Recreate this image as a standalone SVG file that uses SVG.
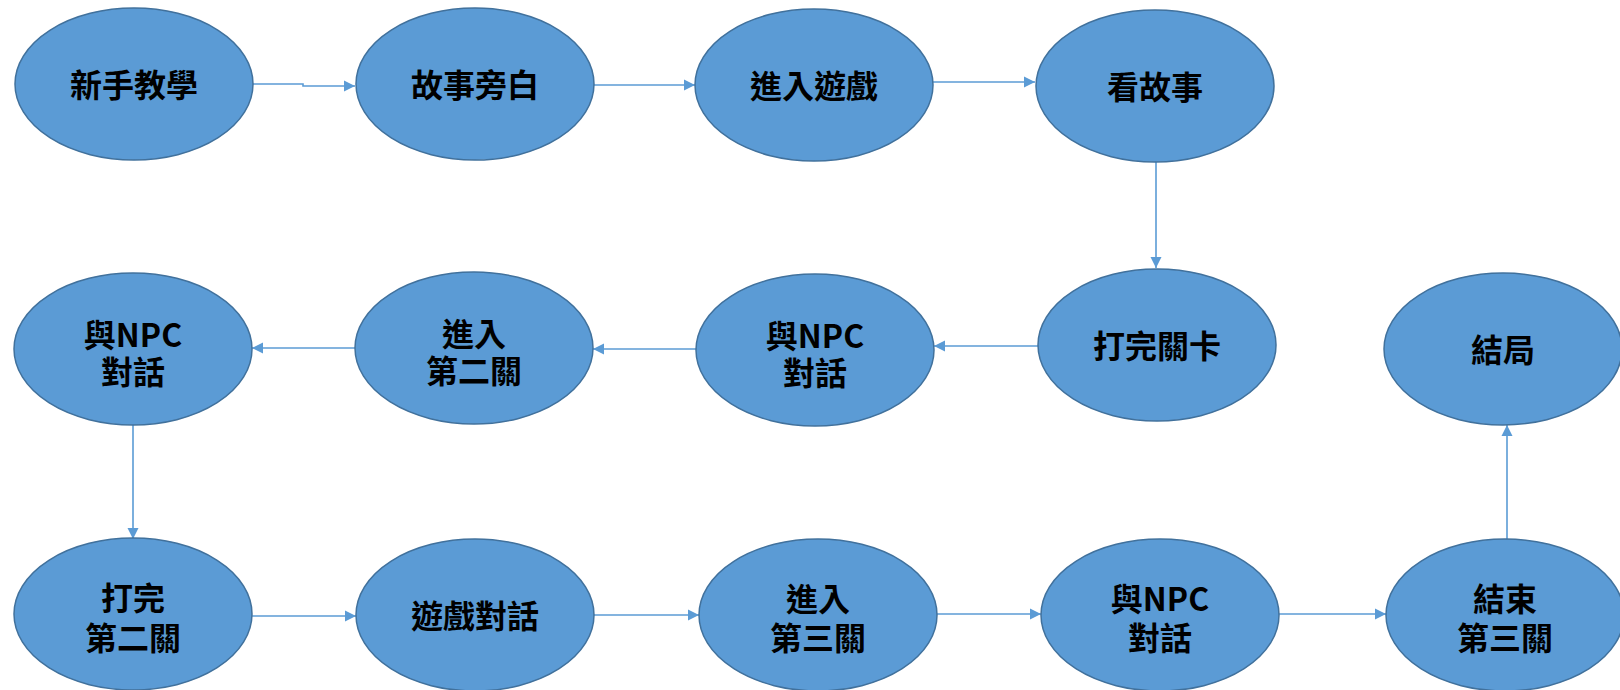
<svg xmlns="http://www.w3.org/2000/svg" width="1620" height="690" viewBox="0 0 1620 690">
<style>
.node ellipse{fill:#5B9BD5;stroke:#41719C;stroke-width:1.5}
.node text{font-family:"Noto Sans CJK TC","Noto Sans CJK SC",sans-serif;font-size:32px;font-weight:bold;fill:#000;text-anchor:middle}
.conn path{fill:none;stroke:#5B9BD5;stroke-width:1.6}
</style>
<defs>
<marker id="arr" markerUnits="userSpaceOnUse" markerWidth="12" markerHeight="12" refX="11" refY="6" orient="auto">
<path d="M0,0.5 L11,6 L0,11.5 Z" fill="#5B9BD5"/>
</marker>
</defs>
<rect width="1620" height="690" fill="#fff"/>
<g id="connectors" class="conn">
<path d="M253,84 H303 V86 H355" marker-end="url(#arr)"/>
<path d="M594,85 H695" marker-end="url(#arr)"/>
<path d="M933,82 H1035" marker-end="url(#arr)"/>
<path d="M1156,162 V268" marker-end="url(#arr)"/>
<path d="M1038,346 H934" marker-end="url(#arr)"/>
<path d="M696,349 H593" marker-end="url(#arr)"/>
<path d="M355,348 H252" marker-end="url(#arr)"/>
<path d="M133,425 V539" marker-end="url(#arr)"/>
<path d="M252,616 H356" marker-end="url(#arr)"/>
<path d="M594,615 H699" marker-end="url(#arr)"/>
<path d="M937,614 H1041" marker-end="url(#arr)"/>
<path d="M1279,614 H1386" marker-end="url(#arr)"/>
<path d="M1507,539 V425" marker-end="url(#arr)"/>
</g>
<g id="n1" class="node"><ellipse cx="134" cy="84" rx="119" ry="76"/><text x="134" y="97">新手教學</text></g>
<g id="n2" class="node"><ellipse cx="475" cy="84" rx="119" ry="76"/><text x="475" y="97">故事旁白</text></g>
<g id="n3" class="node"><ellipse cx="814" cy="85" rx="119" ry="76"/><text x="814" y="98">進入遊戲</text></g>
<g id="n4" class="node"><ellipse cx="1155" cy="86" rx="119" ry="76"/><text x="1155" y="99">看故事</text></g>
<g id="n5" class="node"><ellipse cx="1157" cy="345" rx="119" ry="76"/><text x="1157" y="358">打完關卡</text></g>
<g id="n6" class="node"><ellipse cx="815" cy="350" rx="119" ry="76"/><text x="815" y="348">與NPC<tspan x="815" dy="37">對話</tspan></text></g>
<g id="n7" class="node"><ellipse cx="474" cy="348" rx="119" ry="76"/><text x="474" y="346">進入<tspan x="474" dy="37">第二關</tspan></text></g>
<g id="n8" class="node"><ellipse cx="133" cy="349" rx="119" ry="76"/><text x="133" y="347">與NPC<tspan x="133" dy="37">對話</tspan></text></g>
<g id="n9" class="node"><ellipse cx="133" cy="614" rx="119" ry="76"/><text x="133" y="610">打完<tspan x="133" dy="40">第二關</tspan></text></g>
<g id="n10" class="node"><ellipse cx="475" cy="615" rx="119" ry="76"/><text x="475" y="628">遊戲對話</text></g>
<g id="n11" class="node"><ellipse cx="818" cy="615" rx="119" ry="76"/><text x="818" y="611">進入<tspan x="818" dy="39">第三關</tspan></text></g>
<g id="n12" class="node"><ellipse cx="1160" cy="615" rx="119" ry="76"/><text x="1160" y="611">與NPC<tspan x="1160" dy="39">對話</tspan></text></g>
<g id="n13" class="node"><ellipse cx="1505" cy="615" rx="119" ry="76"/><text x="1505" y="611">結束<tspan x="1505" dy="39">第三關</tspan></text></g>
<g id="n14" class="node"><ellipse cx="1503" cy="349" rx="119" ry="76"/><text x="1503" y="362">結局</text></g>
</svg>
